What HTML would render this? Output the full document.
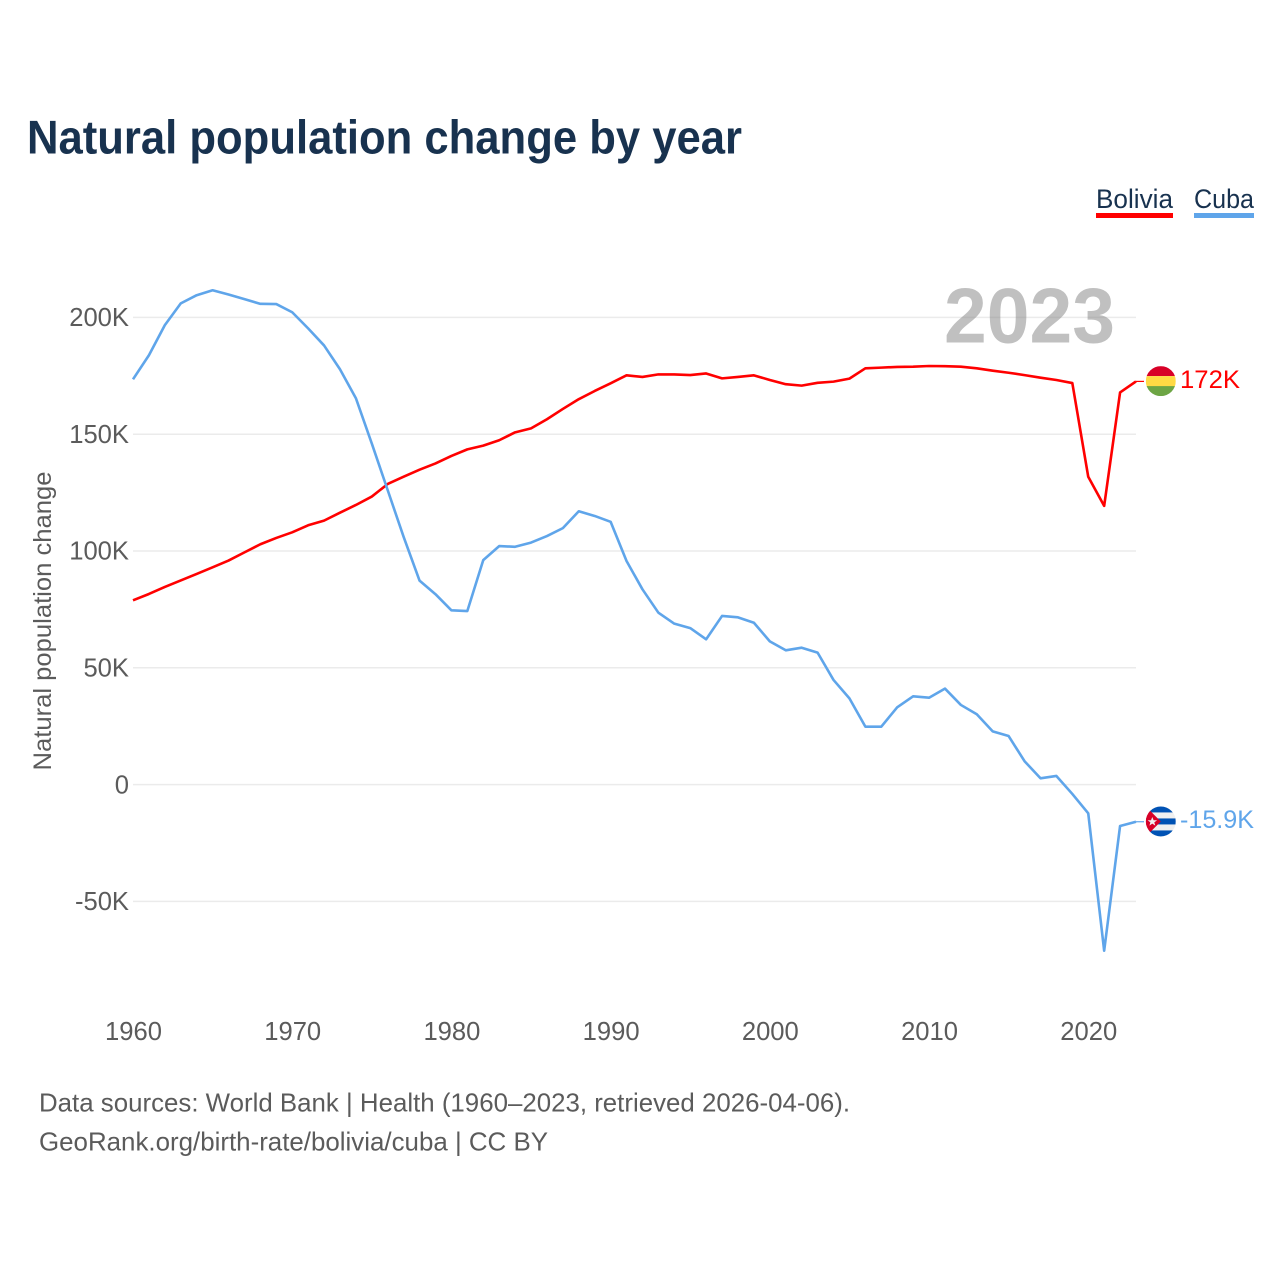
<!DOCTYPE html>
<html lang="en">
<head>
<meta charset="utf-8">
<title>Natural population change by year</title>
<style>
html,body{margin:0;padding:0;background:#fff;width:1280px;height:1280px;overflow:hidden}
svg{display:block}
text{font-family:"Liberation Sans",sans-serif}
</style>
</head>
<body>
<svg id="chart" width="1280" height="1280" viewBox="0 0 1280 1280" xmlns="http://www.w3.org/2000/svg">
  <defs>
    <clipPath id="flag-clip"><circle cx="0" cy="0" r="15"/></clipPath>
  </defs>
  <rect x="0" y="0" width="1280" height="1280" fill="#fff"/>
  <text x="27" y="153.5" font-size="47" font-weight="700" fill="#18324f" textLength="715" lengthAdjust="spacingAndGlyphs">Natural population change by year</text>

  <text x="1096" y="208" font-size="27" fill="#18324f" textLength="77" lengthAdjust="spacingAndGlyphs">Bolivia</text>
  <rect x="1096" y="213" width="77" height="5" fill="#ff0000"/>
  <text x="1194" y="208" font-size="27" fill="#18324f" textLength="60" lengthAdjust="spacingAndGlyphs">Cuba</text>
  <rect x="1194" y="213" width="60" height="5" fill="#5fa5ea"/>

  <text x="1115" y="342.7" font-size="78" font-weight="700" fill="#c0c0c0" text-anchor="end" textLength="171" lengthAdjust="spacingAndGlyphs">2023</text>

  <g id="grid"></g>
  <g id="y-ticks"></g>
  <g id="x-ticks"></g>

  <text transform="translate(51 621) rotate(-90)" font-size="25" fill="#5b5b5b" text-anchor="middle" textLength="299" lengthAdjust="spacingAndGlyphs">Natural population change</text>

  <g id="series"></g>

  <g id="flag-bolivia" clip-path="url(#flag-clip)">
    <rect x="-15" y="-15" width="30" height="10" fill="#d80027"/>
    <rect x="-15" y="-5" width="30" height="10.5" fill="#ffda44"/>
    <rect x="-15" y="5" width="30" height="10" fill="#6da544"/>
  </g>
  <g id="flag-cuba" clip-path="url(#flag-clip)">
    <rect x="-15" y="-15" width="30" height="30" fill="#f0f0f0"/>
    <rect x="-15" y="-15" width="30" height="6" fill="#0052b4"/>
    <rect x="-15" y="-3" width="30" height="6" fill="#0052b4"/>
    <rect x="-15" y="9" width="30" height="6" fill="#0052b4"/>
    <polygon points="-15,-15 0,0 -15,15" fill="#d80027"/>
    <polygon points="-8.5,-4.5 -7.2,-1.2 -3.7,-1.2 -6.5,0.9 -5.5,4.2 -8.5,2.2 -11.4,4.2 -10.4,0.9 -13.2,-1.2 -9.8,-1.2" fill="#f0f0f0"/>
  </g>
  <text id="end-label-bolivia" x="1180" y="388" font-size="25" fill="#ff0000" textLength="60" lengthAdjust="spacingAndGlyphs">172K</text>
  <text id="end-label-cuba" x="1180" y="827.5" font-size="25" fill="#5fa5ea" textLength="74" lengthAdjust="spacingAndGlyphs">-15.9K</text>

  <text x="39" y="1111.5" font-size="26" fill="#5b5b5b" textLength="811" lengthAdjust="spacingAndGlyphs">Data sources: World Bank | Health (1960–2023, retrieved 2026-04-06).</text>
  <text x="39" y="1150.5" font-size="26" fill="#5b5b5b" textLength="509" lengthAdjust="spacingAndGlyphs">GeoRank.org/birth-rate/bolivia/cuba | CC BY</text>
</svg>
<script>
const firstYear = 1960;
const lastYear = 2023;
const xTickYears = [1960, 1970, 1980, 1990, 2000, 2010, 2020];
const yTickValues = [200, 150, 100, 50, 0, -50];
const yTickLabels = ['200K', '150K', '100K', '50K', '0', '-50K'];
const boliviaValues = [78.9,81.6,84.6,87.4,90.2,93,95.9,99.4,102.9,105.6,108,111,113,116.4,119.7,123.3,128.7,131.8,134.8,137.5,140.7,143.5,145.1,147.4,150.8,152.5,156.4,160.8,165,168.5,171.8,175.2,174.5,175.6,175.6,175.3,176,173.9,174.5,175.2,173.2,171.4,170.8,172,172.5,173.8,178.2,178.5,178.8,178.9,179.2,179.1,178.9,178.2,177.2,176.3,175.3,174.2,173.2,171.9,131.8,119.3,167.9,172.6];
const cubaValues = [173.5,183.8,196.7,206,209.5,211.6,209.8,207.8,205.8,205.7,202.2,195.3,188,177.8,165.4,146,126,106,87.3,81.5,74.6,74.3,96.1,102.1,101.8,103.6,106.4,109.8,117,115,112.5,95.7,83.6,73.6,68.9,67,62.2,72.2,71.6,69.3,61.3,57.5,58.6,56.5,44.8,36.9,24.8,24.8,33.1,37.8,37.2,41.1,34.1,30.1,22.8,20.8,10,2.7,3.7,-4,-12.3,-71.1,-17.7,-15.9];

const SVG_NS = 'http://www.w3.org/2000/svg';
const plotLeft = 133, plotRight = 1136, zeroY = 784.6, pxPerK = 2.336;
const xScale = function (year) { return plotLeft + (year - firstYear) * (plotRight - plotLeft) / (lastYear - firstYear); };
const yScale = function (k) { return zeroY - k * pxPerK; };

function make(tag, attrs, parent) {
  const el = document.createElementNS(SVG_NS, tag);
  for (const key in attrs) el.setAttribute(key, attrs[key]);
  parent.appendChild(el);
  return el;
}

const gridGroup = document.getElementById('grid');
const yTickGroup = document.getElementById('y-ticks');
const xTickGroup = document.getElementById('x-ticks');
const seriesGroup = document.getElementById('series');

yTickValues.forEach(function (value, i) {
  const y = yScale(value);
  const line = make('line', {x1: plotLeft, x2: plotRight, y1: y, y2: y, stroke: '#808080', 'stroke-opacity': 0.16, 'stroke-width': 1.5}, gridGroup);
  
  
  const label = make('text', {x: 129, y: y + 8.7, 'font-size': 25.6, fill: '#5b5b5b', 'text-anchor': 'end'}, yTickGroup);
  label.textContent = yTickLabels[i];
  
  
});

xTickYears.forEach(function (year) {
  const label = make('text', {x: xScale(year) + 0.5, y: 1040, 'font-size': 25.6, fill: '#5b5b5b', 'text-anchor': 'middle'}, xTickGroup);
  label.textContent = String(year);
  
  
});

function linePoints(values) {
  return values.map(function (v, i) { return xScale(firstYear + i).toFixed(2) + ',' + yScale(v).toFixed(2); }).join(' ');
}

const boliviaLine = make('polyline', {points: linePoints(boliviaValues), fill: 'none', stroke: '#ff0000', 'stroke-width': 2.6, 'stroke-linejoin': 'round'}, seriesGroup);


const cubaLine = make('polyline', {points: linePoints(cubaValues), fill: 'none', stroke: '#5fa5ea', 'stroke-width': 2.6, 'stroke-linejoin': 'round'}, seriesGroup);



function placeEnd(values, color, flagId, labelId, connectorName) {
  const endValue = values[values.length - 1];
  const y = yScale(endValue);
  const connector = make('line', {x1: plotRight, x2: 1144, y1: y, y2: y, stroke: color, 'stroke-width': 1.2}, seriesGroup);
  
  
  document.getElementById(flagId).setAttribute('transform', 'translate(1160.8 ' + (y - 0.3).toFixed(2) + ')');
  document.getElementById(labelId).setAttribute('y', (y + 6.5).toFixed(2));
}
placeEnd(boliviaValues, '#ff0000', 'flag-bolivia', 'end-label-bolivia', 'connector-bolivia');
placeEnd(cubaValues, '#5fa5ea', 'flag-cuba', 'end-label-cuba', 'connector-cuba');
</script>
</body>
</html>
